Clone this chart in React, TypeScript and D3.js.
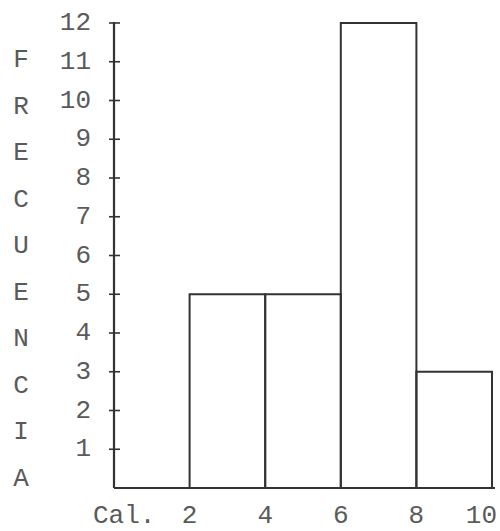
import React from "react";
import * as d3 from "d3";

const binStarts = [2, 4, 6, 8];
const binEnds = [4, 6, 8, 10];
const frequencies = [5, 5, 12, 3];
const yTicks = [1, 2, 3, 4, 5, 6, 7, 8, 9, 10, 11, 12];
const xTicks = [2, 4, 6, 8, 10];
const yTitle = "FRECUENCIA".split("");
const xTitle = "Cal.";

const W = 500;
const H = 531;

export default function App() {
  const x = d3.scaleLinear().domain([0, 10]).range([114, 492]);
  const y = d3.scaleLinear().domain([0, 12]).range([488, 23]);
  const ink = "#333";
  const textCol = "#5a5a5a";
  const font = "'Liberation Mono', 'DejaVu Sans Mono', monospace";
  const titleY = d3.scaleLinear().domain([0, yTitle.length - 1]).range([60, 479]);

  return (
    <svg
      width={W}
      height={H}
      style={{ position: "absolute", left: 0, top: 0, background: "#fff" }}
    >
      {/* bars */}
      {frequencies.map((f, i) => (
        <rect
          key={i}
          x={x(binStarts[i])}
          y={y(f)}
          width={x(binEnds[i]) - x(binStarts[i])}
          height={y(0) - y(f)}
          fill="none"
          stroke={ink}
          strokeWidth={2}
        />
      ))}
      {/* axes */}
      <line x1={x(0)} x2={x(0)} y1={y(12) - 1} y2={y(0)} stroke={ink} strokeWidth={2.2} />
      <line x1={x(0)} x2={x(10) + 3} y1={y(0)} y2={y(0)} stroke={ink} strokeWidth={2.2} />
      {/* y ticks */}
      {yTicks.map((t) => (
        <line key={t} x1={x(0) - 5} x2={x(0) + 6} y1={y(t)} y2={y(t)} stroke={ink} strokeWidth={1.6} />
      ))}
      {/* y tick labels */}
      {yTicks.map((t) => (
        <text
          key={t}
          x={91}
          y={y(t)}
          textAnchor="end"
          dominantBaseline="central"
          fontFamily={font}
          fontSize={26}
          fill={textCol}
        >
          {t}
        </text>
      ))}
      {/* x tick labels */}
      {xTicks.map((t, i) => (
        <text
          key={t}
          x={i === xTicks.length - 1 ? x(t) + 5 : x(t)}
          y={516}
          textAnchor={i === xTicks.length - 1 ? "end" : "middle"}
          dominantBaseline="central"
          fontFamily={font}
          fontSize={26}
          fill={textCol}
        >
          {t}
        </text>
      ))}
      <text
        x={93}
        y={516}
        dominantBaseline="central"
        fontFamily={font}
        fontSize={26}
        fill={textCol}
      >
        {xTitle}
      </text>
      {/* vertical title */}
      {yTitle.map((c, i) => (
        <text
          key={i}
          x={21}
          y={titleY(i)}
          textAnchor="middle"
          dominantBaseline="central"
          fontFamily={font}
          fontSize={26}
          fill={textCol}
        >
          {c}
        </text>
      ))}
    </svg>
  );
}
